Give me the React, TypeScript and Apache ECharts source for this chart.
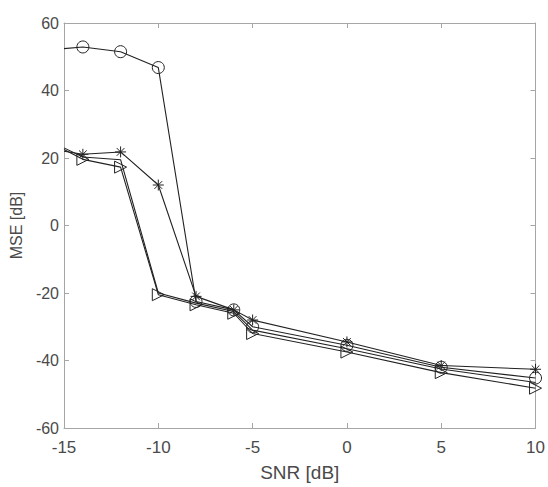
import React, { useEffect, useRef } from "react";
import * as echarts from "echarts";

const snr = [-15, -14, -12, -10, -8, -6, -5, 0, 5, 10];
const circleSeries = [52.4, 52.9, 51.5, 46.8, -22.5, -25, -30, -35.5, -42, -45.2];
const starSeries = [22, 21.1, 21.8, 12, -21, -25, -28, -34.5, -41.5, -42.6];
const plainSeries = [23, 20.3, 19.5, -20, -23, -25.5, -31, -36.5, -42.5, -46.5];
const triSeries = [22.5, 19.6, 17.3, -20.5, -23.5, -26, -32, -37.5, -43.6, -48.2];
const xTicks = [-15, -10, -5, 0, 5, 10];
const yTicks = [-60, -40, -20, 0, 20, 40, 60];

const STAR = "path://M5,0 L5,10 M0,5 L10,5 M1.5,1.5 L8.5,8.5 M8.5,1.5 L1.5,8.5";
const TRI = "path://M0,0 L10,5 L0,10 Z";

const TEXT = "#4a4a4a";
const AXIS = "#a6a6a6";
const LINE = "#222222";
const FONT = "Liberation Sans";

function mk(name: string, vals: number[], symbol: string, size: number) {
  return {
    name,
    type: "line",
    data: vals.map((v, i) =>
      i === 0 ? { value: [snr[i], v], symbol: "none" } : { value: [snr[i], v] }
    ),
    symbol,
    symbolSize: size,
    symbolKeepAspect: true,
    showAllSymbol: true,
    lineStyle: { color: LINE, width: 1.1 },
    itemStyle: { color: "rgba(0,0,0,0)", borderColor: LINE, borderWidth: 1 },
    emphasis: { disabled: true },
    z: 3,
  };
}

export default function App() {
  const ref = useRef<HTMLDivElement>(null);
  useEffect(() => {
    if (!ref.current) return;
    document.body.style.margin = "0";
    document.body.style.overflow = "hidden";
    const chart = echarts.init(ref.current, undefined, { renderer: "svg" });
    const xAxisBase = {
      type: "value",
      min: -15,
      max: 10,
      interval: 5,
      splitLine: { show: false },
      axisLine: { show: true, onZero: false, lineStyle: { color: AXIS, width: 1 } },
      axisTick: { show: true, inside: true, length: 5, lineStyle: { color: AXIS } },
    };
    const yAxisBase = {
      type: "value",
      min: -60,
      max: 60,
      interval: 20,
      splitLine: { show: false },
      axisLine: { show: true, onZero: false, lineStyle: { color: AXIS, width: 1 } },
      axisTick: { show: true, inside: true, length: 5, lineStyle: { color: AXIS } },
    };
    chart.setOption({
      animation: false,
      backgroundColor: "#ffffff",
      grid: { left: 63, right: 11, top: 23, bottom: 55, containLabel: false },
      xAxis: [
        {
          ...xAxisBase,
          position: "bottom",
          name: "SNR [dB]",
          nameLocation: "middle",
          nameGap: 35,
          nameTextStyle: { color: TEXT, fontSize: 19, fontFamily: FONT },
          axisLabel: {
            color: TEXT,
            fontSize: 17,
            margin: 11,
            fontFamily: FONT,
            formatter: (v: number) => (xTicks.includes(v) ? String(v) : ""),
          },
        },
        { ...xAxisBase, position: "top", axisLabel: { show: false } },
      ],
      yAxis: [
        {
          ...yAxisBase,
          position: "left",
          name: "MSE [dB]",
          nameLocation: "middle",
          nameGap: 40,
          nameTextStyle: { color: TEXT, fontSize: 16, fontFamily: FONT },
          axisLabel: {
            color: TEXT,
            fontSize: 16,
            margin: 5,
            fontFamily: FONT,
            formatter: (v: number) => (yTicks.includes(v) ? String(v) : ""),
          },
        },
        { ...yAxisBase, position: "right", axisLabel: { show: false } },
      ],
      series: [
        mk("circle", circleSeries, "circle", 12),
        mk("star", starSeries, STAR, 11),
        mk("plain", plainSeries, "none", 1),
        mk("triangle", triSeries, TRI, 12),
      ],
    });
    return () => chart.dispose();
  }, []);
  return (
    <div
      ref={ref}
      style={{ position: "fixed", left: 0, top: 0, width: 548, height: 487 }}
    />
  );
}
